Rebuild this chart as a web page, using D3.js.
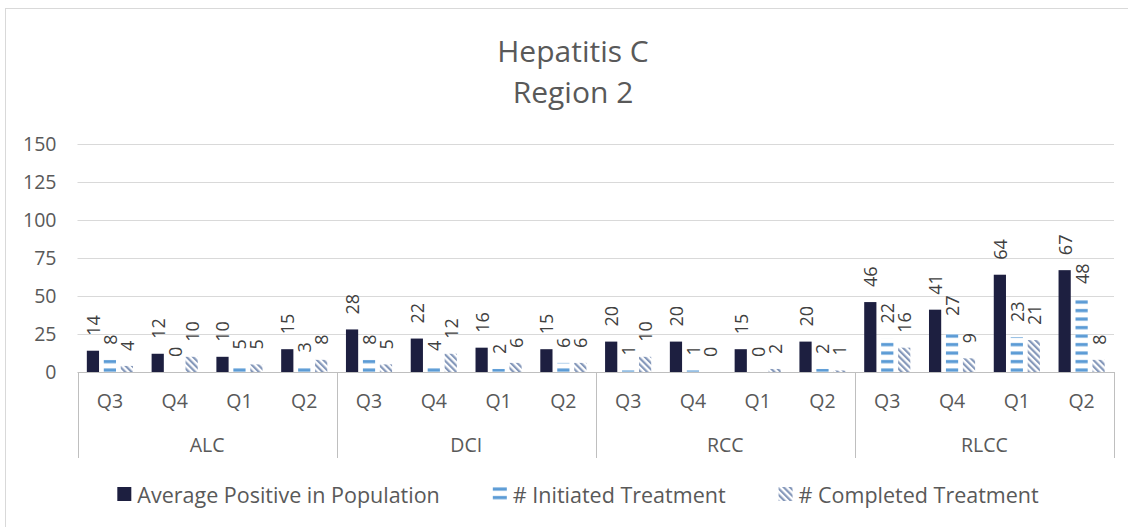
<!DOCTYPE html>
<html>
<head>
<meta charset="utf-8">
<script src="https://cdn.jsdelivr.net/npm/d3@7"></script>
<style>
  body { margin: 0; background: #fff; }
  text { font-family: 'Open Sans', sans-serif; }
</style>
</head>
<body>
<svg id="chart" width="1128" height="527"></svg>
<script>
// data
const groups = ['ALC', 'DCI', 'RCC', 'RLCC'];
const quarters = ['Q3', 'Q4', 'Q1', 'Q2'];
const seriesNames = ['Average Positive in Population', '# Initiated Treatment', '# Completed Treatment'];
const avgPositive = [14, 12, 10, 15, 28, 22, 16, 15, 20, 20, 15, 20, 46, 41, 64, 67];
const initiated = [8, 0, 5, 3, 8, 4, 2, 6, 1, 1, 0, 2, 22, 27, 23, 48];
const completed = [4, 10, 5, 8, 5, 12, 6, 6, 10, 0, 2, 1, 16, 9, 21, 8];
const yTicks = [0, 25, 50, 75, 100, 125, 150];
const titleLines = ['Hepatitis C', 'Region 2'];

const W = 1128, H = 527;
const M = { left: 77.5, right: 1114, top: 144, bottom: 372 };
const TEXT = '#595959';

const svg = d3.select('#chart');

// patterns
const defs = svg.append('defs');
const stripes = defs.append('pattern')
    .attr('id', 'pat-init')
    .attr('patternUnits', 'userSpaceOnUse')
    .attr('width', 8)
    .attr('height', 8.5);
stripes.append('rect').attr('width', 8).attr('height', 8.5).attr('fill', '#fff');
stripes.append('rect').attr('y', 3).attr('width', 8).attr('height', 3.2).attr('fill', '#5B9BD5');

const diag = defs.append('pattern')
    .attr('id', 'pat-comp')
    .attr('patternUnits', 'userSpaceOnUse')
    .attr('width', 4.5)
    .attr('height', 4.5)
    .attr('patternTransform', 'rotate(-45)');
diag.append('rect').attr('width', 4.5).attr('height', 4.5).attr('fill', '#fff');
diag.append('rect').attr('width', 2.2).attr('height', 4.5).attr('fill', '#8598BA');

const fills = ['#1D1F40', 'url(#pat-init)', 'url(#pat-comp)'];

// chart border
svg.append('rect')
    .attr('x', 5.5).attr('y', 8.5)
    .attr('width', W + 20).attr('height', H + 20)
    .attr('fill', 'none')
    .attr('stroke', '#d9d9d9');

// title
svg.append('g').selectAll('text')
    .data(titleLines)
    .enter()
    .append('text')
    .attr('x', 573)
    .attr('y', (d, i) => 62 + i * 41)
    .attr('text-anchor', 'middle')
    .attr('font-size', 30)
    .attr('fill', TEXT)
    .text(d => d);

// scales
const y = d3.scaleLinear().domain([0, 150]).range([M.bottom, M.top]);
const x0 = d3.scaleBand().domain(groups).range([M.left, M.right]);
const x1 = d3.scaleBand().domain(quarters).range([0, x0.bandwidth()]);
const x2 = d3.scaleBand().domain(d3.range(3)).range([0, x1.bandwidth()])
    .paddingInner(0.28).paddingOuter(0.55);

// gridlines
svg.append('g').selectAll('line')
    .data(yTicks.slice(1))
    .enter()
    .append('line')
    .attr('x1', M.left).attr('x2', M.right)
    .attr('y1', d => Math.round(y(d)) + 0.5)
    .attr('y2', d => Math.round(y(d)) + 0.5)
    .attr('stroke', '#d9d9d9')
    .attr('stroke-width', 1);

// y axis labels
const yAxis = svg.append('g')
    .attr('transform', `translate(${M.left},0)`)
    .call(d3.axisLeft(y).tickValues(yTicks).tickSize(0).tickPadding(21));
yAxis.select('.domain').remove();
yAxis.selectAll('text')
    .attr('font-family', 'Open Sans, sans-serif')
    .attr('font-size', 19.5)
    .attr('fill', TEXT);

// bars
const rows = [];
groups.forEach((g, gi) => {
    quarters.forEach((q, qi) => {
        const idx = gi * quarters.length + qi;
        [avgPositive, initiated, completed].forEach((arr, si) => {
            rows.push({ group: g, quarter: q, series: si, value: arr[idx] });
        });
    });
});
const barX = d => x0(d.group) + x1(d.quarter) + x2(d.series);

svg.append('g').attr('class', 'bars')
    .selectAll('rect')
    .data(rows)
    .enter()
    .append('rect')
    .attr('x', barX)
    .attr('y', d => y(d.value))
    .attr('width', x2.bandwidth())
    .attr('height', d => y(0) - y(d.value))
    .attr('fill', d => fills[d.series]);

// data labels
svg.append('g').attr('class', 'labels')
    .selectAll('text')
    .data(rows)
    .enter()
    .append('text')
    .attr('transform', d => `translate(${barX(d) + x2.bandwidth() / 2},${y(d.value) - 15}) rotate(-90)`)
    .attr('text-anchor', 'start')
    .attr('dominant-baseline', 'central')
    .attr('font-size', 18)
    .attr('fill', '#404040')
    .text(d => d.value);

// category axis
const cat = svg.append('g').attr('class', 'cat-axis');
cat.append('line')
    .attr('x1', M.left).attr('x2', M.right)
    .attr('y1', M.bottom + 0.5).attr('y2', M.bottom + 0.5)
    .attr('stroke', '#bfbfbf');
const bounds = groups.map(g => x0(g)).concat([M.right]);
cat.selectAll('line.sep')
    .data(bounds)
    .enter()
    .append('line')
    .attr('class', 'sep')
    .attr('x1', d => Math.round(d) + 0.5).attr('x2', d => Math.round(d) + 0.5)
    .attr('y1', M.bottom).attr('y2', 458)
    .attr('stroke', '#bfbfbf');

groups.forEach(g => {
    cat.append('g').selectAll('text')
        .data(quarters)
        .enter()
        .append('text')
        .attr('x', q => x0(g) + x1(q) + x1.bandwidth() / 2)
        .attr('y', 400)
        .attr('text-anchor', 'middle')
        .attr('dominant-baseline', 'central')
        .attr('font-size', 19.5)
        .attr('fill', TEXT)
        .text(q => q);
});
cat.append('g').selectAll('text')
    .data(groups)
    .enter()
    .append('text')
    .attr('x', g => x0(g) + x0.bandwidth() / 2)
    .attr('y', 444)
    .attr('text-anchor', 'middle')
    .attr('dominant-baseline', 'central')
    .attr('font-size', 19.5)
    .attr('fill', TEXT)
    .text(g => g);

// legend
const legend = svg.append('g').attr('class', 'legend');
const items = legend.selectAll('g')
    .data(seriesNames)
    .enter()
    .append('g');
items.append('rect')
    .attr('y', 487)
    .attr('width', 14).attr('height', 14)
    .attr('fill', (d, i) => fills[i]);
items.append('text')
    .attr('x', 20)
    .attr('y', 494)
    .attr('dominant-baseline', 'central')
    .attr('font-size', 21.5)
    .attr('fill', TEXT)
    .text(d => d);

// lay out legend items centred
const widths = [];
items.each(function () { widths.push(20 + d3.select(this).select('text').node().getComputedTextLength()); });
const gap = 53;
const total = d3.sum(widths) + gap * (widths.length - 1);
let cursor = 578 - total / 2;
items.attr('transform', (d, i) => {
    const t = `translate(${cursor},0)`;
    cursor += widths[i] + gap;
    return t;
});
</script>
</body>
</html>
